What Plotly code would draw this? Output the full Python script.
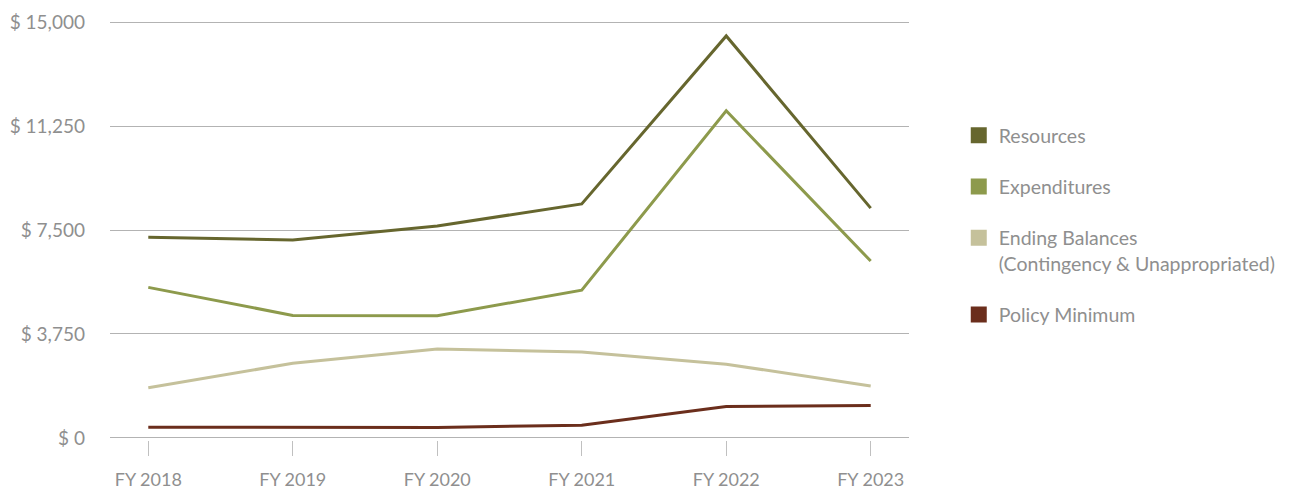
import plotly.graph_objects as go

years = ["FY 2018", "FY 2019", "FY 2020", "FY 2021", "FY 2022", "FY 2023"]
resources = [7240, 7140, 7645, 8440, 14500, 8290]
expenditures = [5430, 4420, 4410, 5330, 11800, 6380]
ending_balances = [1810, 2690, 3210, 3100, 2660, 1875]
policy_minimum = [385, 385, 380, 460, 1130, 1165]

series_names = ["Resources", "Expenditures",
                "Ending Balances<br>(Contingency & Unappropriated)", "Policy Minimum"]
series_values = [resources, expenditures, ending_balances, policy_minimum]
colors = ["#66662e", "#8d9a4c", "#c5c19b", "#6b2e1c"]

y_tickvals = [0, 3750, 7500, 11250, 15000]
y_ticktext = ["$ 0", "$ 3,750", "$ 7,500", "$ 11,250", "$ 15,000"]

font_family = "Lato, 'Open Sans', sans-serif"
text_color = "#8f8f8f"

fig = go.Figure()
for i, (name, vals, col) in enumerate(zip(series_names, series_values, colors)):
    fig.add_trace(go.Scatter(
        x=years, y=vals, mode="lines", name=name,
        line=dict(color=col, width=3), showlegend=False, hoverinfo="x+y"))
    fig.add_trace(go.Scatter(
        x=[None], y=[None], mode="markers", name=name,
        marker=dict(symbol="square", size=16, color=col),
        legendgroup=f"g{i}", showlegend=True))

fig.update_layout(
    width=1293, height=489,
    margin=dict(l=110, r=384, t=20, b=49),
    paper_bgcolor="white", plot_bgcolor="white",
    font=dict(family=font_family, size=19, color=text_color),
    legend=dict(xref="container", yref="container", x=0.7415, y=0.7628,
                xanchor="left", yanchor="top",
                valign="top", tracegroupgap=23, itemsizing="trace",
                font=dict(family=font_family, size=19.5, color=text_color)),
    xaxis=dict(type="category", range=[-0.265, 5.265], showgrid=False,
               ticks="outside", ticklen=15, tickcolor="#c0c0c0", tickwidth=1,
               showline=False, zeroline=False, ticklabelstandoff=8,
               automargin=False,
               tickfont=dict(size=18, color=text_color)),
    yaxis=dict(range=[-75, 15075], tickvals=y_tickvals, ticktext=y_ticktext,
               showgrid=True, gridcolor="#b3b3b3", gridwidth=1,
               zeroline=False, showline=False, ticks="",
               ticklabelstandoff=24, automargin=False,
               tickfont=dict(size=19, color=text_color)),
)

fig.write_html(
    "out.html",
    config={"displayModeBar": False},
    post_script="document.body.style.margin='0';document.body.style.overflow='hidden';",
)
